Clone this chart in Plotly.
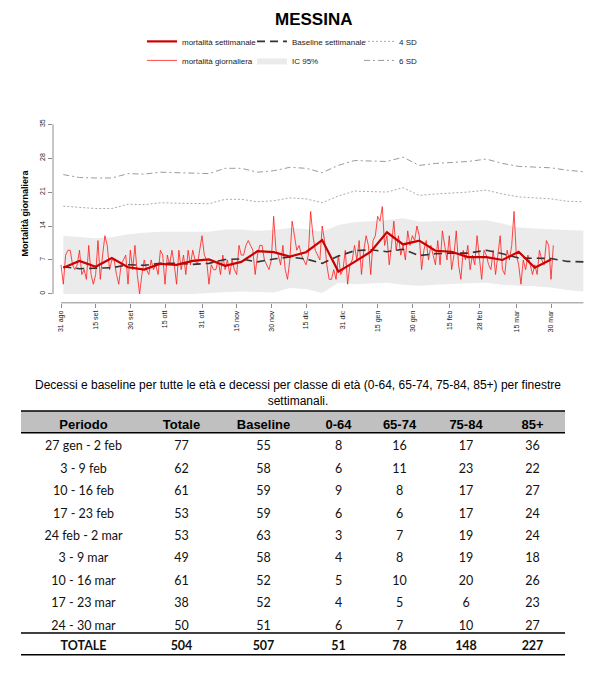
import plotly.graph_objects as go
import pandas as pd

# ---------------- data ----------------
daily_deaths = [
    6, 2, 8,
    9, 9, 6, 5, 6, 9, 4,
    5, 3, 10, 4, 2, 4, 11,
    3, 8, 12, 10, 5, 7, 7,
    4, 2, 6, 7, 8, 2, 9,
    5, 10, 4, 0, 4, 7, 5,
    4, 7, 5, 6, 4, 9, 8,
    2, 8, 6, 9, 6, 2, 9,
    5, 8, 4, 9, 6, 9, 7,
    6, 9, 12, 8, 7, 2, 6,
    5, 5, 7, 4, 8, 5, 7,
    4, 7, 5, 4, 10, 8, 8,
    10, 11, 10, 9, 4, 8, 10,
    10, 7, 6, 5, 7, 16, 9,
    8, 6, 10, 5, 3, 7, 15,
    12, 9, 10, 8, 7, 6, 8,
    17, 12, 9, 8, 7, 14, 11,
    6, 3, 3, 5, 3, 8, 4,
    5, 9, 2, 6, 7, 10, 7,
    11, 4, 9, 12, 10, 4, 11,
    12, 16, 15, 18, 10, 12, 6,
    10, 15, 9, 12, 8, 10, 7,
    13, 10, 12, 11, 14, 12, 5,
    9, 11, 7, 10, 8, 6, 11,
    6, 13, 10, 7, 12, 5, 8,
    13, 6, 3, 9, 7, 10, 5,
    8, 6, 12, 7, 3, 9, 8,
    6, 5, 9, 4, 8, 12, 5,
    4, 9, 7, 10, 17, 8, 6,
    2, 7, 5, 8, 6, 4, 6,
    4, 9, 7, 6, 11, 10, 3,
    10,
]

weekly_deaths = [5.4, 6.8, 5.6, 7.4, 5.5, 5.0, 6.2, 6.0, 6.8, 7.1, 5.8, 6.6, 8.8, 8.6,
                 7.7, 8.6, 11.1, 4.6, 6.6, 8.7, 12.7, 10.2, 11.0, 8.9, 8.7, 7.6, 7.6,
                 7.0, 8.7, 5.4, 7.1]

baseline = [5.6, 5.2, 5.3, 5.4, 6.0, 5.9, 6.3, 6.3, 6.1, 6.3, 7.1, 7.2, 6.6, 7.2, 7.6,
            7.2, 6.3, 7.8, 8.9, 9.1, 8.7, 9.2, 7.9, 8.3, 8.4, 8.4, 9.0, 8.3, 7.4, 7.4,
            7.3, 6.7, 6.6]

ic_high = [12.0, 11.7, 11.5, 11.7, 12.3, 12.6, 12.8, 12.8, 12.8, 12.8, 13.3, 13.3, 13.0,
           13.2, 13.6, 13.4, 12.8, 14.2, 14.8, 15.0, 15.2, 15.6, 14.9, 15.0, 15.1, 15.2,
           15.2, 14.5, 13.7, 13.5, 13.3, 13.1, 13.0]

ic_low = [0.0, 0.0, 0.0, 0.0, 0.0, 0.0, 0.0, 0.0, 0.0, 0.2, 0.3, 0.5, 0.4, 0.3, 1.2, 1.0,
          0.2, 2.3, 2.0, 2.1, 2.3, 1.9, 1.7, 1.9, 2.1, 2.2, 2.3, 1.9, 1.7, 1.6, 1.3, 0.8, 0.5]

sd4 = [18.1, 17.8, 17.6, 17.6, 18.5, 18.4, 18.8, 18.7, 18.6, 18.6, 19.5, 19.5, 19.0, 19.2,
       19.8, 19.6, 18.8, 20.2, 21.2, 21.1, 21.0, 21.9, 20.3, 20.6, 20.8, 21.0, 21.4, 20.6,
       20.0, 19.8, 19.6, 19.1, 19.0]

sd6 = [24.6, 24.0, 23.9, 23.9, 24.8, 24.7, 25.1, 25.0, 24.8, 24.8, 25.9, 25.9, 25.1, 25.4,
       26.1, 25.9, 25.0, 26.5, 27.5, 27.4, 27.3, 28.2, 26.5, 26.9, 27.1, 27.3, 27.8, 26.9,
       26.3, 26.1, 26.0, 25.5, 25.2]

x_tick_dates = ["2019-08-31", "2019-09-15", "2019-09-30", "2019-10-15", "2019-10-31",
                "2019-11-15", "2019-11-30", "2019-12-15", "2019-12-31", "2020-01-15",
                "2020-01-30", "2020-02-15", "2020-02-28", "2020-03-15", "2020-03-30"]
x_tick_labels = ["31 ago", "15 set", "30 set", "15 ott", "31 ott", "15 nov", "30 nov",
                 "15 dic", "31 dic", "15 gen", "30 gen", "15 feb", "28 feb", "15 mar",
                 "30 mar"]
y_ticks = [0, 7, 14, 21, 28, 35]

table_header = ["Periodo", "Totale", "Baseline", "0-64", "65-74", "75-84", "85+"]
table_periodo = ["27 gen - 2 feb", "3 - 9 feb", "10 - 16 feb", "17 - 23 feb",
                 "24 feb - 2 mar", "3 - 9 mar", "10 - 16 mar", "17 - 23 mar",
                 "24 - 30 mar"]
table_totale = [77, 62, 61, 53, 53, 49, 61, 38, 50]
table_baseline = [55, 58, 59, 59, 63, 58, 52, 52, 51]
table_0_64 = [8, 6, 9, 6, 3, 4, 5, 4, 6]
table_65_74 = [16, 11, 8, 6, 7, 8, 10, 5, 7]
table_75_84 = [17, 23, 17, 17, 19, 19, 20, 6, 10]
table_85 = [36, 22, 27, 24, 24, 18, 26, 23, 27]
table_total_row = ["TOTALE", 504, 507, 51, 78, 148, 227]

# ---------------- dates ----------------
daily_dates = pd.date_range("2019-08-31", periods=len(daily_deaths), freq="D")
week_dates = list(pd.date_range("2019-09-01", "2020-02-23", freq="7D")) + \
    list(pd.date_range("2020-03-02", periods=7, freq="7D"))
weekly_dates = week_dates[:len(weekly_deaths)]

# ---------------- page geometry (body has an 8px margin) ----------------
OFF = 8
FW, FH = 604 - OFF, 681 - OFF


def fx(px):
    return (px - OFF) / FW


def fy(py):
    return 1 - (py - OFF) / FH


FONT = "Liberation Sans, Arial, sans-serif"
CELL_FONT = "Lato, Open Sans, sans-serif"
AXC = "#8C8C8C"

fig = go.Figure()

# IC 95% band
fig.add_trace(go.Scatter(x=week_dates, y=ic_low, mode="lines", line=dict(width=0),
                         hoverinfo="skip", showlegend=False))
fig.add_trace(go.Scatter(x=week_dates, y=ic_high, mode="lines", line=dict(width=0),
                         fill="tonexty", fillcolor="#EBEBEB", name="IC 95%",
                         legend="legend2", legendrank=2))
# SD lines
fig.add_trace(go.Scatter(x=week_dates, y=sd4, mode="lines", name="4 SD",
                         line=dict(color="#ABABAB", width=1, dash="2px,2px"),
                         legend="legend3", legendrank=1))
fig.add_trace(go.Scatter(x=week_dates, y=sd6, mode="lines", name="6 SD",
                         line=dict(color="#9A9A9A", width=1, dash="6px,3px,2px,3px"),
                         legend="legend3", legendrank=2))
# daily
fig.add_trace(go.Scatter(x=daily_dates, y=daily_deaths, mode="lines",
                         name="mortalità giornaliera",
                         line=dict(color="#FF1A1A", width=0.8),
                         legend="legend", legendrank=2))
# baseline
fig.add_trace(go.Scatter(x=week_dates, y=baseline, mode="lines",
                         name="Baseline settimanale",
                         line=dict(color="#333333", width=1.6, dash="8px,5px"),
                         legend="legend2", legendrank=1))
# weekly
fig.add_trace(go.Scatter(x=weekly_dates, y=weekly_deaths, mode="lines",
                         name="mortalità settimanale",
                         line=dict(color="#CC0000", width=2.2),
                         legend="legend", legendrank=1))

# ---------------- table ----------------
TOP = 409          # top of the grey header band (screen px)
HEAD_H = 22
ROW_H = 22.4
TAB_L, TAB_R = 21, 565
colw = [125, 71, 93, 57, 65, 68, 65]
columns = [table_periodo, table_totale, table_baseline, table_0_64, table_65_74,
           table_75_84, table_85]
n_rows = len(table_periodo)
body_bottom = TOP + HEAD_H + n_rows * ROW_H

fig.add_trace(go.Table(
    domain=dict(x=[fx(TAB_L), fx(TAB_R)], y=[fy(body_bottom), fy(TOP)]),
    columnwidth=colw,
    header=dict(values=table_header, fill_color="#C0C0C0",
                line=dict(color="#C0C0C0", width=0),
                font=dict(family=FONT, size=13, color="black", weight="bold"),
                height=HEAD_H, align="center"),
    cells=dict(values=[[str(v) for v in c] for c in columns],
               fill_color="rgba(0,0,0,0)", line=dict(color="rgba(0,0,0,0)", width=0),
               font=dict(family=CELL_FONT, size=12.5, color="#111"),
               height=ROW_H, align="center"),
))
# totals row (bold), rendered as the header of a second one-row table
fig.add_trace(go.Table(
    domain=dict(x=[fx(TAB_L), fx(TAB_R)], y=[fy(body_bottom + HEAD_H + 4), fy(body_bottom)]),
    columnwidth=colw,
    header=dict(values=[str(v) for v in table_total_row], fill_color="rgba(0,0,0,0)",
                line=dict(color="rgba(0,0,0,0)", width=0),
                font=dict(family=CELL_FONT, size=12.5, color="#111", weight="bold"),
                height=HEAD_H, align="center"),
    cells=dict(values=[[] for _ in table_total_row], height=ROW_H,
               fill_color="rgba(0,0,0,0)", line=dict(color="rgba(0,0,0,0)", width=0)),
))

# horizontal rules of the table
for ypx in [TOP, TOP + HEAD_H, body_bottom, body_bottom + HEAD_H]:
    fig.add_shape(type="line", xref="paper", yref="paper",
                  x0=fx(TAB_L), x1=fx(TAB_R), y0=fy(ypx), y1=fy(ypx),
                  line=dict(color="black", width=1.5))

# R-style axis lines (x axis from first tick to last date, y axis from 0 to 35)
fig.add_shape(type="line", xref="x", yref="y domain", x0=x_tick_dates[0],
              x1=week_dates[-1], y0=0, y1=0, line=dict(color=AXC, width=1))
fig.add_shape(type="line", xref="x domain", yref="y", x0=0, x1=0, y0=y_ticks[0],
              y1=y_ticks[-1], line=dict(color=AXC, width=1))

x_start = pd.Timestamp("2019-08-31") - pd.Timedelta(days=3.46)
x_end = pd.Timestamp("2019-08-31") + pd.Timedelta(days=226.7)

legend_common = dict(orientation="v", yanchor="top", xanchor="left",
                     font=dict(family=FONT, size=8, color="#222"),
                     bgcolor="rgba(0,0,0,0)", itemwidth=30, tracegroupgap=0,
                     traceorder="normal")

fig.update_layout(
    width=FW, height=FH, autosize=False,
    margin=dict(l=0, r=0, t=0, b=0),
    paper_bgcolor="white", plot_bgcolor="white",
    font=dict(family=FONT, color="#222"),
    showlegend=True,
    legend=dict(x=fx(142), y=fy(22), **legend_common),
    legend2=dict(x=fx(252), y=fy(22), **legend_common),
    legend3=dict(x=fx(359), y=fy(22), **legend_common),
    xaxis=dict(domain=[fx(53), fx(585)], range=[x_start, x_end], type="date",
               showgrid=False, zeroline=False, showline=False,
               ticks="outside", ticklen=4, tickcolor=AXC,
               tickvals=x_tick_dates, ticktext=x_tick_labels, tickangle=-90,
               tickfont=dict(family=FONT, size=7, color="#222")),
    yaxis=dict(domain=[fy(300), fy(120)], range=[-1.84, 35],
               showgrid=False, zeroline=False, showline=False,
               ticks="outside", ticklen=4, tickcolor=AXC,
               tickvals=y_ticks, tickangle=-90,
               tickfont=dict(family=FONT, size=7, color="#222"),
               title=dict(text="<b>Mortalità giornaliera</b>", standoff=9,
                          font=dict(family=FONT, size=9, color="black"))),
    annotations=[
        dict(text="<b>MESSINA</b>", x=fx(313), y=fy(15), xref="paper", yref="paper",
             showarrow=False, font=dict(family=FONT, size=17, color="black"),
             xanchor="center", yanchor="middle"),
        dict(text="Decessi e baseline per tutte le età e decessi per classe di età "
                  "(0-64, 65-74, 75-84, 85+) per finestre<br>settimanali.",
             x=fx(298), y=fy(391), xref="paper", yref="paper", showarrow=False,
             font=dict(family=FONT, size=12, color="black"), align="center",
             xanchor="center", yanchor="middle"),
    ],
)

fig.write_html("out.html")
